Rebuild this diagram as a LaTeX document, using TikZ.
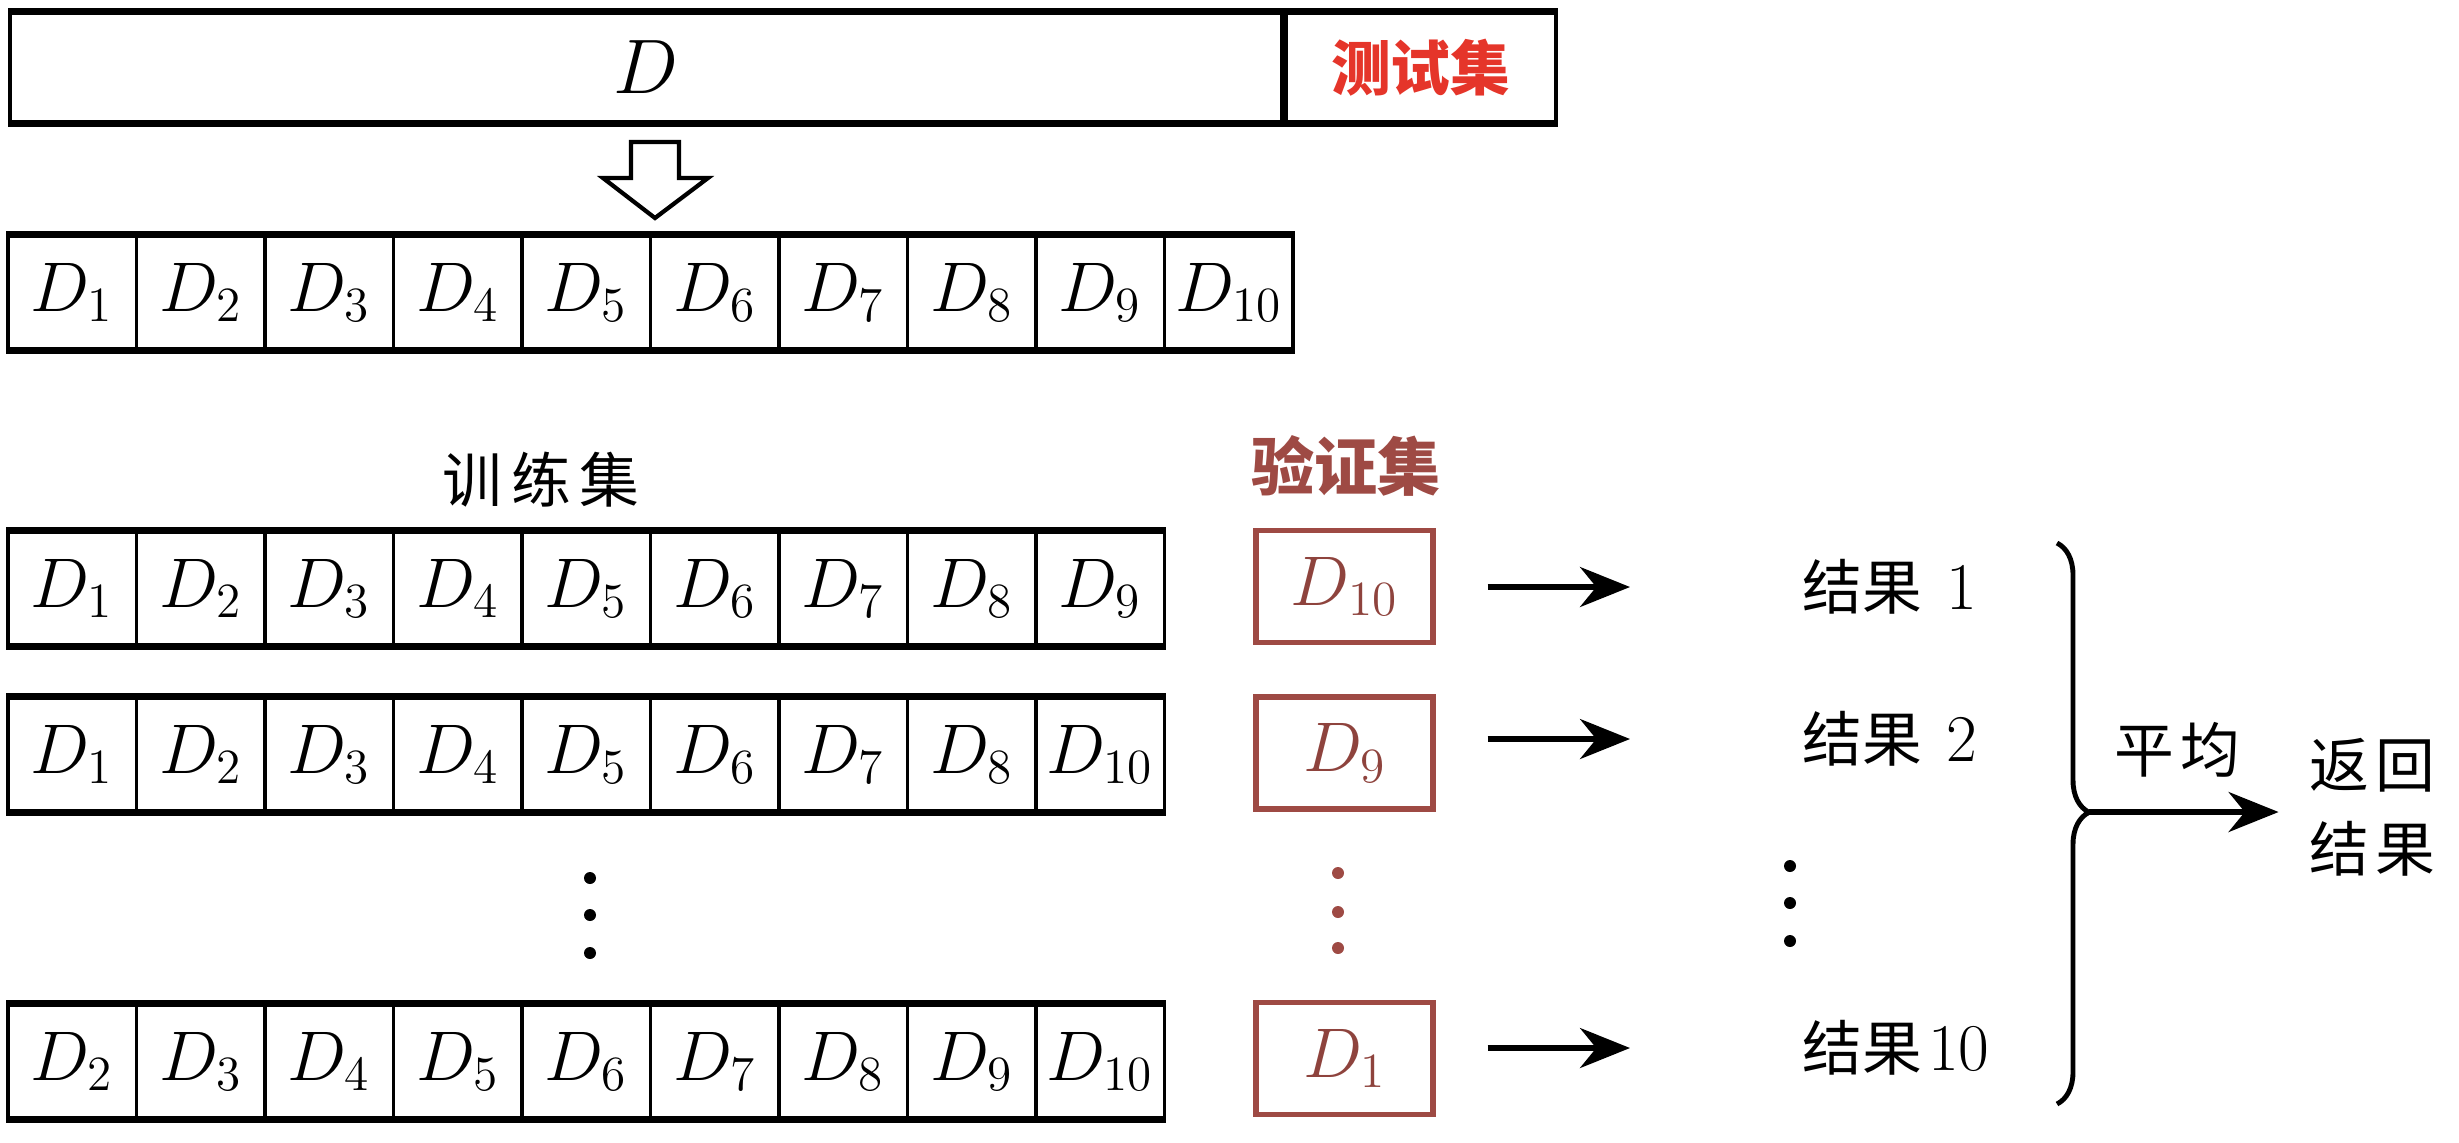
\RequirePackage{fix-cm}
\documentclass[tikz,border=0pt]{standalone}
\usepackage{amsmath}
\usepackage{fontspec}
\newfontfamily\cjk{Noto Sans CJK SC}
\usepackage{tikz}
\usetikzlibrary{arrows.meta,positioning,calc,decorations.pathreplacing}

\definecolor{testred}{HTML}{E5352A}
\definecolor{valbrown}{HTML}{9E4A44}

\begin{document}
\begin{tikzpicture}[
  cell/.style={draw,line width=1.1pt,minimum width=1.285cm,minimum height=1.12cm,inner sep=0pt,font=\fontsize{20}{22}\selectfont},
  rim/.style={line width=1.8pt},
  valbox/.style={draw=valbrown,line width=1.5pt,minimum width=1.77cm,minimum height=1.12cm,inner sep=0pt,text=valbrown!90!black,font=\fontsize{20}{22}\selectfont},
  arr/.style={-{Stealth[length=5mm,width=4mm]},line width=1.5pt},
  zh/.style={inner sep=0pt,font=\cjk\fontsize{17}{24}\selectfont},
  num/.style={font=\rmfamily\fontsize{19}{22}\selectfont},
  dot/.style={circle,fill,inner sep=0pt,minimum size=1.2mm}
]
\useasboundingbox (0,0) rectangle (24.59,-11.42);

% whole data set and test part
\node[draw,line width=1.1pt,minimum width=12.72cm,minimum height=1.09cm,inner sep=0pt,anchor=west,font=\fontsize{22}{24}\selectfont] (whole) at (0.08,-0.675) {$D$};
\node[draw,line width=1.1pt,minimum width=2.70cm,minimum height=1.09cm,inner sep=0pt,anchor=west,text=testred,font=\cjk\bfseries\fontsize{17}{20}\selectfont] (test) at (whole.east) {测试集};
\draw[rim] (whole.north west) -- (test.north east);
\draw[rim] (whole.south west) -- (test.south east);

% hollow arrow
\draw[line width=1.2pt,fill=white] (6.31,-1.42) -- (6.79,-1.42) -- (6.79,-1.78) -- (7.08,-1.78)
  -- (6.55,-2.18) -- (6.03,-1.78) -- (6.31,-1.78) -- cycle;

% ten folds
\foreach \i in {1,...,10}
  \node[cell] (s\i) at ({0.7225+(\i-1)*1.285},-2.925) {$D_{\i}$};
\draw[rim] (s1.north west) -- (s10.north east);
\draw[rim] (s1.south west) -- (s10.south east);

% training rows
\foreach \r/\y/\list in {a/-5.885/{1,2,3,4,5,6,7,8,9},b/-7.545/{1,2,3,4,5,6,7,8,10},c/-10.615/{2,3,4,5,6,7,8,9,10}} {
  \foreach \k [count=\j] in \list
    \node[cell] (\r\j) at ({0.7225+(\j-1)*1.285},\y) {$D_{\k}$};
  \draw[rim] (\r1.north west) -- (\r9.north east);
  \draw[rim] (\r1.south west) -- (\r9.south east);
}
\node[zh] (train) at (5.41,-4.80) {训\hspace{0.15em}练\hspace{0.15em}集};

% validation folds
\node[zh,font=\cjk\bfseries\fontsize{18}{20}\selectfont,text=valbrown] (val) at (13.46,-4.66) {验证集};
\node[valbox] (v1) at (13.445,-5.865) {$D_{10}$};
\node[valbox] (v2) at (13.445,-7.53) {$D_9$};
\node[valbox] (v3) at (13.445,-10.585) {$D_1$};

% results
\node[zh,anchor=west] (res1) at (18.02,-5.87) {结果\hspace{0.4em}{\rmfamily\fontsize{19}{22}\selectfont 1}};
\node[zh,anchor=west] (res2) at (18.02,-7.39) {结果\hspace{0.4em}{\rmfamily\fontsize{19}{22}\selectfont 2}};
\node[zh,anchor=west] (res3) at (18.02,-10.48) {结果\hspace{0.1em}{\rmfamily\fontsize{19}{22}\selectfont 10}};
\draw[arr] ($(v1.east |- res1.west)+(0.52,0)$) -- ($(res1.west)+(-1.72,0)$);
\draw[arr] ($(v2.east |- res2.west)+(0.52,0)$) -- ($(res2.west)+(-1.72,0)$);
\draw[arr] ($(v3.east |- res3.west)+(0.52,0)$) -- ($(res3.west)+(-1.72,0)$);

% vertical dots
\foreach \yy [count=\n] in {8.78,9.15,9.53}
  \node[dot] (ld\n) at (5.90,-\yy) {};
\foreach \yy [count=\n] in {8.73,9.12,9.48}
  \node[dot,valbrown] (vd\n) at (13.38,-\yy) {};
\foreach \yy [count=\n] in {8.66,9.03,9.41}
  \node[dot] (rd\n) at (17.90,-\yy) {};

% average
\draw[decorate,decoration={brace,amplitude=3.2mm,aspect=0.48},line width=1.4pt] (20.57,-5.43) -- (20.57,-11.04);
\coordinate (tip) at (20.89,-8.12);
\node[zh] (avg) at (21.77,-7.50) {平\hspace{0.1em}均};
\node[zh,align=center] (ret) at (23.72,-8.07) {返\hspace{0.1em}回\\结\hspace{0.1em}果};
\draw[arr] (tip) -- ($(tip -| ret.west)+(-0.3,0)$);
\end{tikzpicture}
\end{document}
